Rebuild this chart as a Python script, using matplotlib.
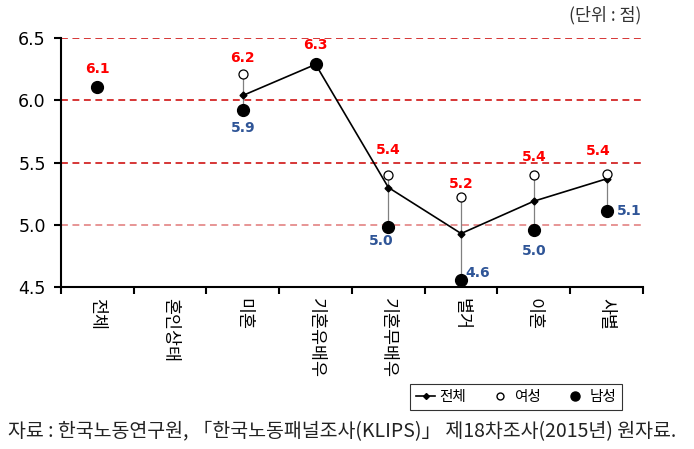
import numpy as np
import matplotlib
matplotlib.use("Agg")
import matplotlib.pyplot as plt
from matplotlib.lines import Line2D

plt.rcParams['font.family'] = ['Noto Sans CJK KR', 'DejaVu Sans']

categories = ['전체', '혼인상태', '미혼', '기혼유배우', '기혼무배우', '별거', '이혼', '사별']
total = [6.11, np.nan, 6.04, 6.29, 5.30, 4.93, 5.19, 5.37]
female = [6.11, np.nan, 6.21, 6.29, 5.40, 5.22, 5.40, 5.41]
male = [6.11, np.nan, 5.92, 6.29, 4.98, 4.56, 4.96, 5.11]
yticks = [4.5, 5.0, 5.5, 6.0, 6.5]
unit_text = '(단위 : 점)'
source_text = '자료 : 한국노동연구원, 「한국노동패널조사(KLIPS)」 제18차조사(2015년) 원자료.'

# label offsets in points (style only)
f_off = [(0, 13), None, (0, 12), (0, 14), (0, 18), (0, 10), (0, 13), (-6, 16.5)]
m_off = [None, None, (0, -13), None, (-5, -10), (12, 5), (0, -15), (16, 0)]

fig = plt.figure(figsize=(6.94, 4.49), dpi=100)
ax = fig.add_axes([0.0879, 0.3608, 0.8386, 0.554])

x = np.arange(len(categories))
red = '#CC0000'
for yv in [5.5, 6.0, 6.5]:
    ax.axhline(yv, color=red, lw=1.1, ls=(0, (4.5, 3)), zorder=1)
ax.axhline(5.0, color='#E07878', lw=1.1, ls=(0, (4.5, 3)), zorder=1)

# high-low lines
for xi, f, m in zip(x, female, male):
    if not (np.isnan(f) or np.isnan(m)) and abs(f - m) > 1e-9:
        ax.plot([xi, xi], [f, m], color='#808080', lw=0.9, zorder=2)

ax.plot(x, total, color='black', lw=1.2, marker='D', markersize=3.5, zorder=3)
ax.plot(x, female, ls='none', marker='o', markersize=6.5, markerfacecolor='white',
        markeredgecolor='black', markeredgewidth=0.9, zorder=4)
ax.plot(x, male, ls='none', marker='o', markersize=8.5, markerfacecolor='black',
        markeredgecolor='black', zorder=5)

for xi, f, m, fo, mo in zip(x, female, male, f_off, m_off):
    if fo is not None and not np.isnan(f):
        ax.annotate(f'{f:.1f}', (xi, f), xytext=fo, textcoords='offset points',
                    ha='center', va='center', color='#FF0000', fontsize=10,
                    fontweight='bold', family='DejaVu Sans')
    if mo is not None and not np.isnan(m):
        ax.annotate(f'{m:.1f}', (xi, m), xytext=mo, textcoords='offset points',
                    ha='center', va='center', color='#2F5597', fontsize=10,
                    fontweight='bold', family='DejaVu Sans')

ax.set_xlim(-0.5, len(categories) - 0.5)
ax.set_ylim(4.5, 6.5)
ax.set_yticks(yticks)
ax.set_yticklabels([f'{v:.1f}' for v in yticks], fontsize=12.5, family='DejaVu Sans')
ax.set_xticks(x)
ax.set_xticklabels(categories, rotation=-90, fontsize=12.5, va='top', ha='center')
ax.tick_params(axis='x', which='major', length=0, pad=8)
ax.set_xticks(np.arange(-0.5, len(categories)), minor=True)
ax.tick_params(axis='x', which='minor', length=5, width=1.5, direction='out')
ax.tick_params(axis='y', length=5, width=1.5, direction='out', pad=6)
for s in ['top', 'right']:
    ax.spines[s].set_visible(False)
for s in ['left', 'bottom']:
    ax.spines[s].set_linewidth(1.5)

handles = [
    Line2D([], [], color='black', lw=1.2, marker='D', markersize=3),
    Line2D([], [], ls='none', marker='o', markersize=5, markerfacecolor='white',
           markeredgecolor='black'),
    Line2D([], [], ls='none', marker='o', markersize=6.5, markerfacecolor='black',
           markeredgecolor='black'),
]
leg = fig.legend(handles, ['전체', '여성', '남성'], ncol=3, loc='center',
                 bbox_to_anchor=(516 / 694, 1 - 397 / 449), frameon=True,
                 fancybox=False, edgecolor='black', fontsize=10.5,
                 handlelength=1.3, handletextpad=0.3, columnspacing=1.7,
                 borderpad=0.4)
leg.get_frame().set_linewidth(0.8)

fig.text(641 / 694, 1 - 15 / 449, unit_text, ha='right', va='center',
         fontsize=12.5, color='#333333')
fig.text(8 / 694, 1 - 432 / 449, source_text, ha='left', va='center',
         fontsize=14, color='#222222')

fig.savefig('out.png', dpi=100)
